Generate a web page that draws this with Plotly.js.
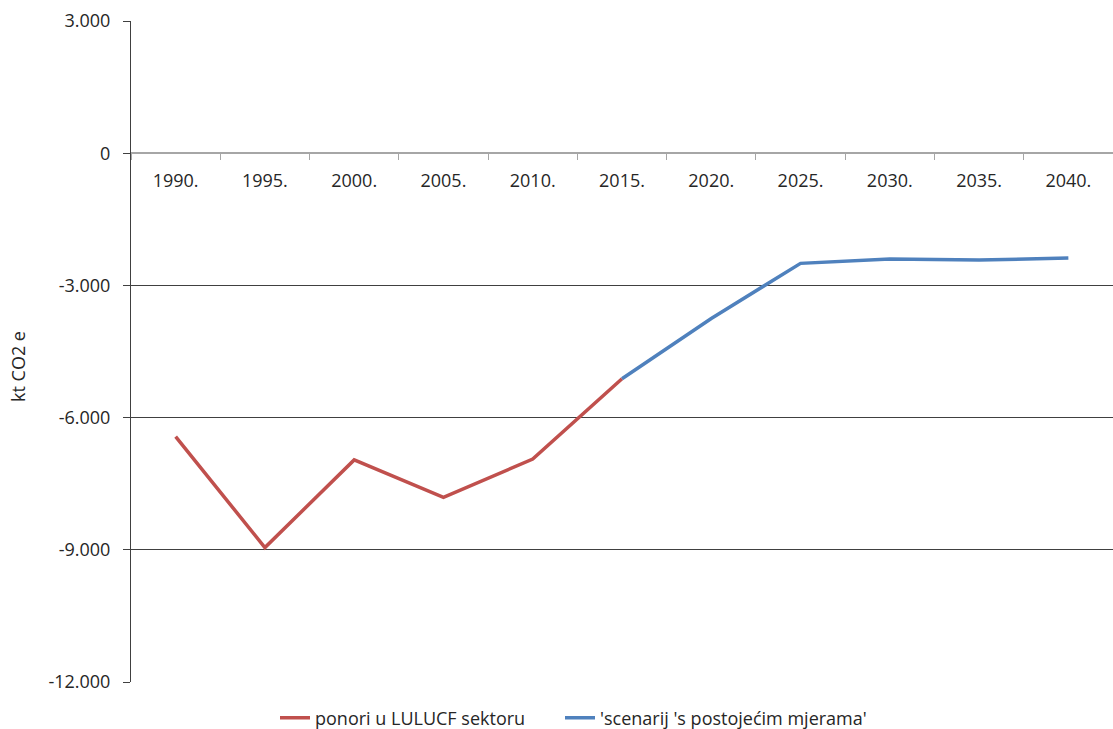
<!DOCTYPE html>
<html>
<head>
<meta charset="utf-8">
<script src="https://cdn.plot.ly/plotly-3.0.1.min.js"></script>
<style>html,body{margin:0;padding:0;background:#fff}#chart{width:1113px;height:729px}</style>
</head>
<body>
<div id="chart"></div>
<script>
const years = ['1990.','1995.','2000.','2005.','2010.','2015.','2020.','2025.','2030.','2035.','2040.'];
const ponori = [-6430, -8950, -6960, -7810, -6940, -5120, null, null, null, null, null];
const scenarij = [null, null, null, null, null, -5120, -3750, -2500, -2400, -2425, -2380];
const yTickVals = [3000, 0, -3000, -6000, -9000, -12000];
const yTickText = ['3.000', '0', '-3.000', '-6.000', '-9.000', '-12.000'];
const seriesNames = ['ponori u LULUCF sektoru', "'scenarij 's postojećim mjerama'"];
const yTitle = 'kt CO2 e';

const FONT = '"Open Sans", "Noto Sans", sans-serif';
const FS = 18;
const traces = [
  {x: years, y: ponori, name: seriesNames[0], type: 'scatter', mode: 'lines',
   line: {color: '#C0504D', width: 3.5}, connectgaps: false, legend: 'legend'},
  {x: years, y: scenarij, name: seriesNames[1], type: 'scatter', mode: 'lines',
   line: {color: '#4F81BD', width: 3.5}, connectgaps: false, legend: 'legend2'}
];
const legendBase = {orientation: 'h', xanchor: 'left', yref: 'container', y: 0.015, yanchor: 'middle',
  xref: 'container', font: {family: FONT, size: FS, color: '#262626'}, itemwidth: 30,
  bgcolor: 'rgba(0,0,0,0)'};
const layout = {
  width: 1113, height: 729,
  margin: {l: 131, r: 0, t: 21, b: 47, autoexpand: false},
  paper_bgcolor: '#fff', plot_bgcolor: '#fff',
  font: {family: FONT, size: FS, color: '#262626'},
  showlegend: true,
  legend: Object.assign({}, legendBase, {x: 275 / 1113}),
  legend2: Object.assign({}, legendBase, {x: 560 / 1113}),
  xaxis: {
    type: 'category', categoryorder: 'array', categoryarray: years,
    anchor: 'free', position: 0.8,
    showline: true, linecolor: '#a6a6a6', linewidth: 2,
    ticks: 'outside', tickson: 'boundaries', ticklen: 6, tickcolor: '#a6a6a6', tickwidth: 1,
    ticklabelstandoff: 11,
    showgrid: false, zeroline: false, automargin: false,
    tickfont: {family: FONT, size: FS, color: '#262626'},
    range: [-0.5, 10.5], fixedrange: true
  },
  yaxis: {
    range: [-12000, 3000], tickvals: yTickVals, ticktext: yTickText,
    showline: true, linecolor: '#404040', linewidth: 1,
    ticks: 'outside', ticklen: 7, tickcolor: '#404040',
    ticklabelstandoff: 9,
    showgrid: true, gridcolor: '#404040', gridwidth: 1,
    zeroline: false, automargin: false,
    tickfont: {family: FONT, size: FS, color: '#262626'},
    fixedrange: true
  },
  annotations: [{
    text: yTitle, xref: 'paper', yref: 'paper', x: (18 - 131) / 982, y: (682 - 367) / 661,
    xanchor: 'center', yanchor: 'middle', textangle: -90, showarrow: false,
    font: {family: FONT, size: FS, color: '#262626'}
  }]
};
Plotly.newPlot('chart', traces, layout, {displayModeBar: false, staticPlot: true});
</script>
</body>
</html>
